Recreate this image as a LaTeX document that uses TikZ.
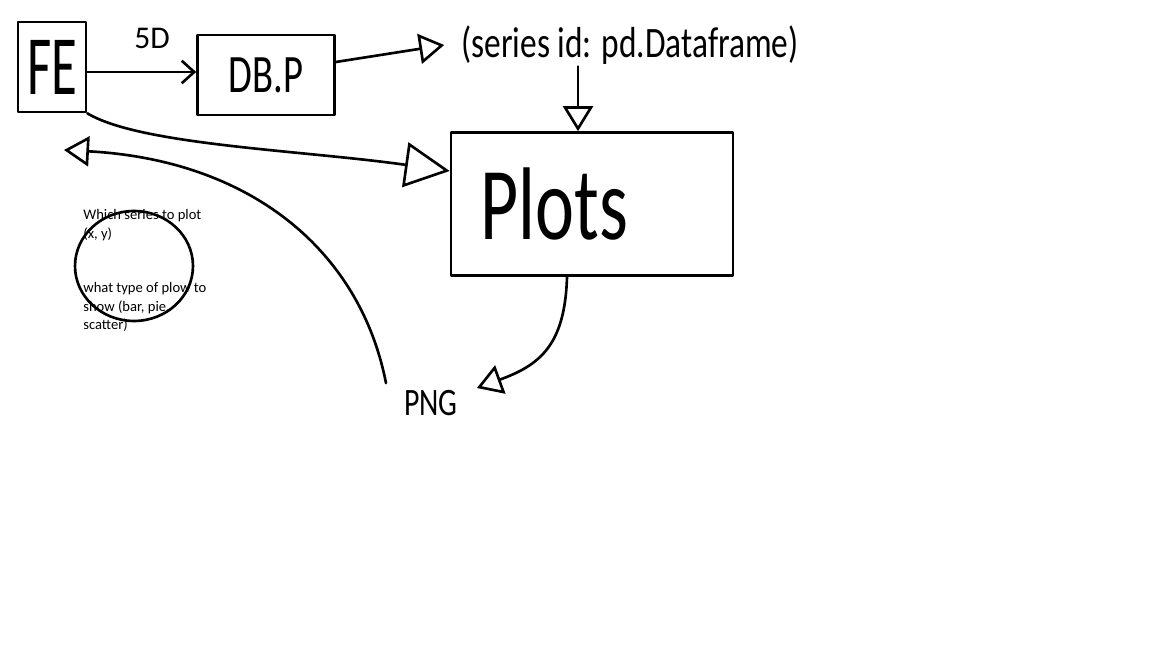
\documentclass[tikz,border=0pt]{standalone}
\usepackage{fontspec}
\setmainfont{Carlito}
\usetikzlibrary{arrows.meta,positioning,shapes.geometric,calc}

% taller hand-lettered look
\newcommand{\tallword}[2]{\scalebox{1}[#1]{#2}}

\begin{document}
\begin{tikzpicture}[
  x=0.02cm, y=-0.02cm,
  sketch/.style={draw, line width=1.5pt, line join=round, line cap=round},
  box/.style={sketch, rectangle, inner sep=0pt},
  tri/.style={-{Triangle[open, length=5mm, width=6mm, line width=1.5pt]}},
  bigtri/.style={-{Triangle[open, length=9mm, width=9mm, line width=1.5pt]}},
  barb/.style={-{Straight Barb[length=2.5mm, width=4.5mm, line width=1.5pt]}},
  hand/.style={font=\fontsize{#1}{#1}\selectfont, inner sep=1pt},
  note/.style={font=\fontsize{8.3}{10.6}\selectfont, align=left, anchor=north west, inner sep=0pt}
]
  \useasboundingbox (0,0) rectangle (1152,648);

  \node[box, minimum width=1.36cm, minimum height=1.8cm, hand=30] (fe) at (52,67) {\tallword{1.6}{FE}};
  \node[box, minimum width=2.74cm, minimum height=1.6cm, hand=22] (dbp) at (266,75) {\tallword{1.4}{DB.P}};
  \node[hand=18] (sd) at (152,38) {5D};
  \node[hand=19] (series) at (630,45) {\tallword{1.3}{(series id: pd.Dataframe)}};
  \node[box, minimum width=5.64cm, minimum height=2.86cm, hand=42] (plots) at (592,204) {\tallword{1.4}{Plots}\kern1.5cm};
  \node[hand=17] (png) at (431,403) {\tallword{1.3}{PNG}};
  \coordinate (back) at (64,150);

  \node[sketch, ellipse, minimum width=2.36cm, minimum height=2.2cm] (ring) at (134,266) {};
  \node[note] (which) at (83,209) {Which series to plot\\(x, y)};
  \node[note] (what) at (83,282) {what type of plow to\\show (bar, pie,\\scatter)};

  \draw[sketch, barb] ([yshift=-0.1cm]fe.east) -- ([yshift=-0.1cm]fe.east -| dbp.west);
  \draw[sketch, tri] ([yshift=0.26cm]dbp.east) -- ([xshift=-0.3cm]series.west);
  \draw[sketch, tri] ([xshift=-0.28cm]plots.north |- series.south) -- ([xshift=-0.28cm]plots.north);
  \draw[sketch, bigtri] (fe.south east) .. controls (140,145) and (300,150) .. ([yshift=0.66cm]plots.west);
  \draw[sketch, tri] ([xshift=-0.9cm,yshift=0.1cm]png.north) .. controls (360,250) and (250,160) .. (back);
  \draw[sketch, tri] ([xshift=-0.5cm]plots.south) .. controls (565,345) and (540,365) .. ([shift={(0.34cm,0.3cm)}]png.east);
\end{tikzpicture}
\end{document}
